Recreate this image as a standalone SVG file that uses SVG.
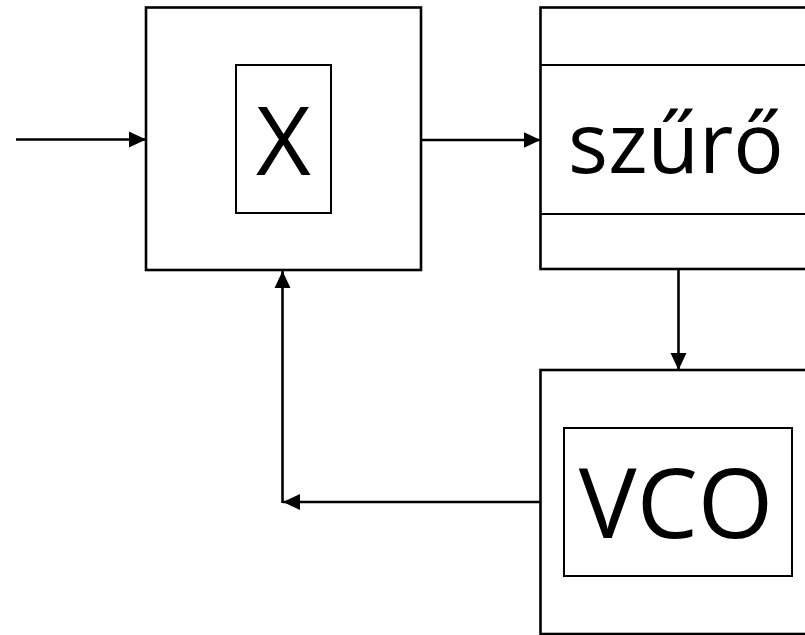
<svg xmlns="http://www.w3.org/2000/svg" width="805" height="635" viewBox="0 0 805 635">
  <style>
    .outer { fill: #ffffff; stroke: #000000; stroke-width: 2.6; }
    .inner { fill: #ffffff; stroke: #000000; stroke-width: 2; }
    .div { stroke: #000000; stroke-width: 2; }
    .wire { fill: none; stroke: #000000; stroke-width: 2.6; }
    .label { font-family: "Open Sans", "Noto Sans", sans-serif; fill: #000000; text-anchor: middle; }
  </style>
  <defs>
    <marker id="arrow" markerUnits="userSpaceOnUse" markerWidth="18" markerHeight="18" viewBox="0 0 18 18" refX="17" refY="9" orient="auto">
      <path d="M0,1 L17,9 L0,17 Z" fill="#000000"/>
    </marker>
  </defs>

  <rect width="805" height="635" fill="#ffffff"/>

  <!-- mixer -->
  <g id="mixer">
    <rect class="outer" x="146" y="7.5" width="275" height="262.5"/>
    <rect class="inner" x="236" y="65" width="95" height="148"/>
    <text class="label" x="283.5" y="175" font-size="95">X</text>
  </g>

  <!-- loop filter -->
  <g id="filter">
    <rect class="outer" x="540.5" y="7.5" width="280" height="261.5"/>
    <line class="div" x1="540.5" y1="65" x2="805" y2="65"/>
    <line class="div" x1="540.5" y1="214" x2="805" y2="214"/>
    <text class="label" x="676" y="173" font-size="84">szűrő</text>
  </g>

  <!-- voltage-controlled oscillator -->
  <g id="vco">
    <rect class="outer" x="540.5" y="370" width="280" height="264"/>
    <rect class="inner" x="564" y="428" width="228" height="148"/>
    <text class="label" x="676" y="538" font-size="97">VCO</text>
  </g>

  <!-- signal paths -->
  <g id="connectors">
    <line class="wire" x1="16" y1="139.5" x2="146" y2="139.5" marker-end="url(#arrow)"/>
    <line class="wire" x1="421" y1="140" x2="540.5" y2="140" marker-end="url(#arrow)"/>
    <line class="wire" x1="678.5" y1="269" x2="678.5" y2="370" marker-end="url(#arrow)"/>
    <line class="wire" x1="540.5" y1="502" x2="283" y2="502" marker-end="url(#arrow)"/>
    <line class="wire" x1="282.5" y1="503" x2="282.5" y2="271" marker-end="url(#arrow)"/>
  </g>
</svg>
